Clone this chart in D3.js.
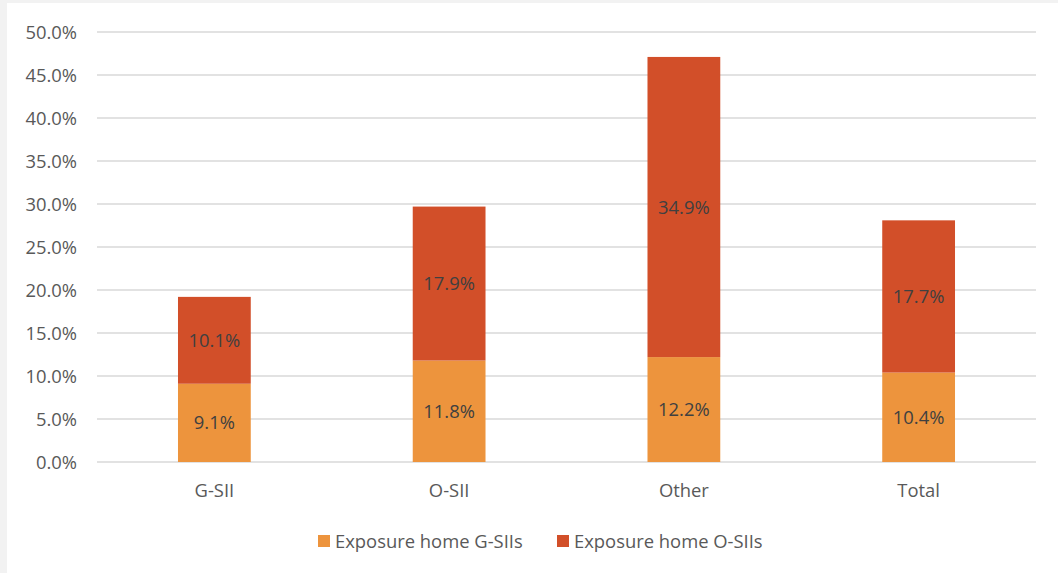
<!DOCTYPE html>
<html><head><meta charset="utf-8">
<script src="https://cdn.jsdelivr.net/npm/d3@7"></script>
<style>html,body{margin:0;padding:0;background:#f2f2f2;}svg{display:block;}</style>
</head><body>
<svg id="c" width="1058" height="573"></svg>
<script>
const categories = ["G-SII", "O-SII", "Other", "Total"];
const gsiiValues = [9.1, 11.8, 12.2, 10.4];
const osiiValues = [10.1, 17.9, 34.9, 17.7];
const seriesNames = ["Exposure home G-SIIs", "Exposure home O-SIIs"];
const yTicks = [0, 5, 10, 15, 20, 25, 30, 35, 40, 45, 50];

const colors = ["#ED943D", "#D24F29"];
const font = "Open Sans, Liberation Sans, sans-serif";
const fs = 18.4;
const svg = d3.select("#c");
svg.append("rect").attr("x", 7).attr("y", 3).attr("width", 1051).attr("height", 570).attr("fill", "#fff");

const x = d3.scaleBand().domain(categories).range([97, 1036]).paddingInner(0.69).paddingOuter(0.345);
const y = d3.scaleLinear().domain([0, 50]).range([462, 32]);

// gridlines
svg.append("g").selectAll("line").data(yTicks).join("line")
  .attr("x1", 97).attr("x2", 1036)
  .attr("y1", d => y(d)).attr("y2", d => y(d))
  .attr("stroke", "#d9d9d9").attr("stroke-width", 1.5);

// y axis labels
const yAxis = d3.axisLeft(y).tickValues(yTicks).tickFormat(d => d.toFixed(1) + "%").tickSize(0).tickPadding(0);
const ya = svg.append("g").attr("transform", "translate(77,0)").call(yAxis);
ya.select(".domain").remove();
ya.selectAll("text").attr("font-family", font).attr("font-size", fs).attr("fill", "#595959").attr("dy", "0.36em");

// x axis labels
const xAxis = d3.axisBottom(x).tickSize(0).tickPadding(0);
const xa = svg.append("g").attr("transform", "translate(0,490)").call(xAxis);
xa.select(".domain").remove();
xa.selectAll("text").attr("font-family", font).attr("font-size", fs).attr("fill", "#595959").attr("y", 0).attr("dy", "0.36em");

const stackData = categories.map((c, i) => ({cat: c, a: gsiiValues[i], b: osiiValues[i]}));
const stack = d3.stack().keys(["a", "b"])(stackData);

const layers = svg.append("g").selectAll("g").data(stack).join("g").attr("fill", (d, i) => colors[i]);
layers.selectAll("rect").data(d => d).join("rect")
  .attr("x", d => x(d.data.cat))
  .attr("width", x.bandwidth())
  .attr("y", d => y(d[1]))
  .attr("height", d => y(d[0]) - y(d[1]));

const lbl = svg.append("g").selectAll("g").data(stack).join("g");
lbl.selectAll("text").data(d => d).join("text")
  .attr("x", d => x(d.data.cat) + x.bandwidth() / 2)
  .attr("y", d => (y(d[0]) + y(d[1])) / 2)
  .attr("dy", "0.36em")
  .attr("text-anchor", "middle")
  .attr("font-family", font).attr("font-size", fs).attr("fill", "#404040")
  .text(d => (d[1] - d[0]).toFixed(1) + "%");

// legend
const legX = [318, 557];
const leg = svg.append("g").selectAll("g").data(seriesNames).join("g")
  .attr("transform", (d, i) => `translate(${legX[i]},541)`);
leg.append("rect").attr("x", 0).attr("y", -6).attr("width", 12).attr("height", 12).attr("fill", (d, i) => colors[i]);
leg.append("text").attr("x", 17).attr("dy", "0.36em")
  .attr("font-family", font).attr("font-size", fs).attr("fill", "#595959").text(d => d);
</script>
</body></html>
